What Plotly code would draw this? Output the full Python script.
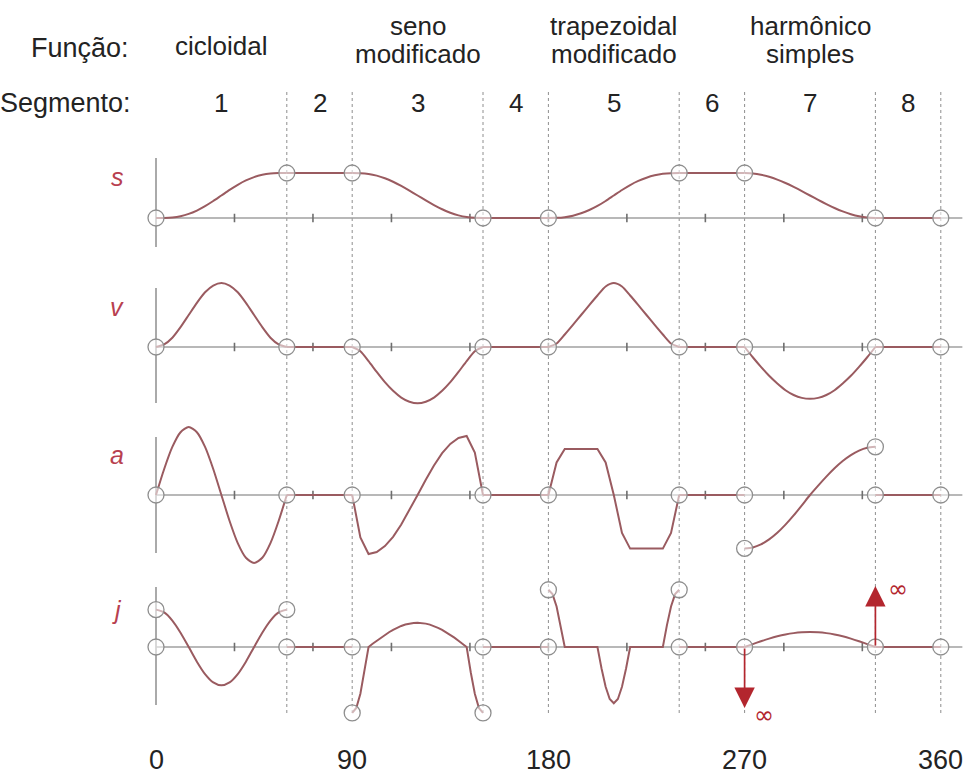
import plotly.graph_objects as go

# ---------------------------------------------------------------------------
# Data: SVAJ diagrams of a cam with eight segments (angles in degrees)
# ---------------------------------------------------------------------------
SEGMENT_EDGES = [0, 60, 90, 150, 180, 240, 270, 330, 360]
SEGMENT_NAMES = ["1", "2", "3", "4", "5", "6", "7", "8"]
FUNCTION_NAMES = [("cicloidal", ""), ("seno", "modificado"),
                  ("trapezoidal", "modificado"), ("harmônico", "simples")]
X_LABELS = [0, 90, 180, 270, 360]
TICK_DEG = [36, 72, 108, 144, 180, 216, 252, 288, 324]

# sample positions inside every 60° motion segment
SAMPLE_OFFSETS = [0, 3.75, 7.5, 11.25, 15, 18.75, 22.5, 26.25, 30,
                  33.75, 37.5, 41.25, 45, 48.75, 52.5, 56.25, 60]
FINE_OFFSETS = [0, 1.875, 3.75, 5.625, 7.5, 9.375, 11.25, 13.125, 15,
                16.875, 18.75, 20.625, 22.5, 24.375, 26.25, 28.125, 30,
                31.875, 33.75, 35.625, 37.5, 39.375, 41.25, 43.125, 45,
                46.875, 48.75, 50.625, 52.5, 54.375, 56.25, 58.125, 60]

# displacement s
S_CICLOIDAL = [0, 0.002, 0.013, 0.041, 0.091, 0.166, 0.263, 0.377, 0.5,
               0.623, 0.737, 0.834, 0.909, 0.959, 0.987, 0.998, 1]
S_SENO_MOD = [1, 0.997, 0.980, 0.942, 0.883, 0.805, 0.713, 0.609, 0.5,
              0.391, 0.288, 0.195, 0.117, 0.058, 0.020, 0.003, 0]
S_TRAP_MOD = [0, 0.003, 0.018, 0.052, 0.105, 0.177, 0.268, 0.378, 0.5,
              0.622, 0.732, 0.823, 0.895, 0.948, 0.982, 0.997, 1]
S_HARMONICO = [1, 0.990, 0.962, 0.916, 0.854, 0.778, 0.691, 0.598, 0.5,
               0.402, 0.309, 0.222, 0.146, 0.084, 0.038, 0.010, 0]
S_DWELL = [1, 0, 1, 0]

# velocity v
V_CICLOIDAL = [0, 0.08, 0.29, 0.62, 1.0, 1.38, 1.71, 1.92, 2.0,
               1.92, 1.71, 1.38, 1.0, 0.62, 0.29, 0.08, 0]
V_SENO_MOD = [0, -0.13, -0.44, -0.78, -1.10, -1.37, -1.58, -1.71, -1.76,
              -1.71, -1.58, -1.37, -1.10, -0.78, -0.44, -0.13, 0]
V_TRAP_MOD = [0, 0.11, 0.39, 0.69, 1.0, 1.31, 1.61, 1.89, 2.0,
              1.89, 1.61, 1.31, 1.0, 0.69, 0.39, 0.11, 0]
V_HARMONICO = [0, -0.32, -0.62, -0.90, -1.14, -1.35, -1.50, -1.59, -1.62,
               -1.59, -1.50, -1.35, -1.14, -0.90, -0.62, -0.32, 0]
V_DWELL = [0, 0, 0, 0]

# acceleration a
A_CICLOIDAL = [0, 2.40, 4.44, 5.80, 6.28, 5.80, 4.44, 2.40, 0,
               -2.40, -4.44, -5.80, -6.28, -5.80, -4.44, -2.40, 0]
A_SENO_MOD = [0, -3.91, -5.45, -5.27, -4.72, -3.86, -2.72, -1.41, 0,
              1.41, 2.72, 3.86, 4.72, 5.27, 5.45, 3.91, 0]
A_TRAP_MOD = [0, 3.0, 4.25, 4.25, 4.25, 4.25, 4.25, 3.0, 0,
              -3.5, -4.95, -4.95, -4.95, -4.95, -4.95, -3.5, 0]
A_HARMONICO = [-4.93, -4.84, -4.56, -4.10, -3.49, -2.74, -1.89, -0.96, 0,
               0.87, 1.70, 2.47, 3.14, 3.69, 4.10, 4.36, 4.45]
A_DWELL = [0, 0, 0, 0]

# jerk j (the piecewise laws are read on the finer grid)
J_CICLOIDAL = [38.5, 35.6, 27.2, 14.7, 0, -15.1, -27.9, -36.5, -39.5,
               -36.5, -27.9, -15.1, 0, 14.7, 27.2, 35.6, 38.5]
J_SENO_MOD = [-68, -62.8, -48.1, -26.0, 0, 3.3, 6.5, 9.6, 12.5, 15.2, 17.7,
              19.8, 21.7, 23.1, 24.1, 24.8, 25.0, 24.8, 24.1, 23.1, 21.7,
              19.8, 17.7, 15.2, 12.5, 9.6, 6.5, 3.3, 0, -26.0, -48.1, -62.8,
              -68]
J_TRAP_MOD = [59, 54.5, 41.7, 22.6, 0, 0, 0, 0, 0, 0, 0, 0,
              0, -22.2, -41.0, -53.6, -58, -53.6, -41.0, -22.2, 0,
              0, 0, 0, 0, 0, 0, 0, 0, 22.6, 41.7, 54.5, 59]
J_HARMONICO = [0, 3.0, 5.9, 8.6, 11.0, 12.9, 14.3, 15.2, 15.5,
               15.2, 14.3, 12.9, 11.0, 8.6, 5.9, 3.0, 0]
J_DWELL = [0, 0, 0, 0]

# points where the jerk goes to infinity (angle, direction)
JERK_INF_ANGLES = [270, 330]
JERK_INF_SIGNS = [-1, 1]

MOTION = {
    "s": [S_CICLOIDAL, S_SENO_MOD, S_TRAP_MOD, S_HARMONICO],
    "v": [V_CICLOIDAL, V_SENO_MOD, V_TRAP_MOD, V_HARMONICO],
    "a": [A_CICLOIDAL, A_SENO_MOD, A_TRAP_MOD, A_HARMONICO],
    "j": [J_CICLOIDAL, J_SENO_MOD, J_TRAP_MOD, J_HARMONICO],
}
DWELL = {"s": S_DWELL, "v": V_DWELL, "a": A_DWELL, "j": J_DWELL}

# piecewise-defined laws (modified sine / trapezoid) keep straight joins
# on the a and j diagrams; everything else is drawn as a smooth spline
LINEAR_PIECES = {("a", 1), ("a", 2), ("j", 1), ("j", 2)}

# ---------------------------------------------------------------------------
# Layout geometry (pixels from the top of a 965 x 775 page)
# ---------------------------------------------------------------------------
W, H = 965, 775
X0_PX, DEG_PX = 156.0, 2.18          # 0° position and pixels per degree
X_RANGE = [-20, 370]

PANELS = {
    #        baseline, px/unit, domain px,  axis line px, label y px
    "s": dict(base=218, unit=45.0, dom=(150, 272), axis=(158, 247), label=177),
    "v": dict(base=347, unit=32.0, dom=(272, 420), axis=(288, 403), label=307),
    "a": dict(base=495, unit=10.83, dom=(420, 578), axis=(437, 553), label=455),
    "j": dict(base=647, unit=0.97, dom=(578, 730), axis=(587, 705), label=610),
}
ORDER = ["s", "v", "a", "j"]

CURVE_COLOR = "#9a5b60"
GRID_GRAY = "#8e8e8e"
TEXT_COLOR = "#232323"
LABEL_RED = "#b8404f"
ARROW_RED = "#b3262e"
FONT = "Liberation Sans, Arial, Helvetica, sans-serif"
TEXT_SIZE = 26


def py(px):
    """Vertical pixel position to paper fraction."""
    return 1 - px / H


def pxx(px):
    return px / W


def pieces_for(name):
    out = []
    for i in range(8):
        a0, a1 = SEGMENT_EDGES[i], SEGMENT_EDGES[i + 1]
        if i % 2 == 0:
            vals = MOTION[name][i // 2]
            offs = FINE_OFFSETS if len(vals) == len(FINE_OFFSETS) else SAMPLE_OFFSETS
            xs = [a0 + o * (a1 - a0) / 60 for o in offs]
            shape = "linear" if (name, i // 2) in LINEAR_PIECES else "spline"
        else:
            lvl = DWELL[name][i // 2]
            xs, vals = [a0, a1], [lvl, lvl]
            shape = "linear"
        out.append((xs, list(vals), shape))
    return out


fig = go.Figure()
layout_axes = {}
shapes = []
annotations = []

x_dom = [pxx(X0_PX + DEG_PX * X_RANGE[0]), pxx(X0_PX + DEG_PX * X_RANGE[1])]
layout_axes["xaxis"] = dict(domain=x_dom, range=X_RANGE, visible=False,
                            fixedrange=True)

for idx, name in enumerate(ORDER):
    g = PANELS[name]
    yname = "y" if idx == 0 else f"y{idx + 1}"
    lname = "yaxis" if idx == 0 else f"yaxis{idx + 1}"
    top, bot = g["dom"]
    layout_axes[lname] = dict(
        domain=[py(bot), py(top)],
        range=[-(bot - g["base"]) / g["unit"], (g["base"] - top) / g["unit"]],
        visible=False, anchor="x", fixedrange=True,
    )

    # baseline with small ticks
    shapes.append(dict(type="line", xref="x", yref=yname, x0=0, x1=X_RANGE[1],
                       y0=0, y1=0, line=dict(color="#a0a0a0", width=1.5),
                       layer="below"))
    fig.add_trace(go.Scatter(
        x=TICK_DEG, y=[0] * len(TICK_DEG), xaxis="x", yaxis=yname,
        mode="markers", hoverinfo="skip", showlegend=False,
        marker=dict(symbol="line-ns", size=6,
                    line=dict(color="#6e6e6e", width=1.6)),
    ))

    # vertical axis line at 0°
    shapes.append(dict(type="line", xref="x", yref="paper", x0=0, x1=0,
                       y0=py(g["axis"][1]), y1=py(g["axis"][0]),
                       line=dict(color=GRID_GRAY, width=1.5), layer="below"))

    # the curve, one trace per segment
    pieces = pieces_for(name)
    for xs, ys, shape in pieces:
        fig.add_trace(go.Scatter(
            x=xs, y=ys, xaxis="x", yaxis=yname, mode="lines",
            line=dict(color=CURVE_COLOR, width=2, shape=shape, smoothing=0.7),
            hoverinfo="skip", showlegend=False,
        ))

    # open circles at the segment boundaries
    ox, oy = [], []
    for k, edge in enumerate(SEGMENT_EDGES):
        incoming = pieces[k - 1][1][-1] if k > 0 else pieces[-1][1][-1]
        ox.append(edge)
        oy.append(incoming)
        if k < len(pieces):
            outgoing = pieces[k][1][0]
            if abs(outgoing - incoming) > 1e-9:
                ox.append(edge)
                oy.append(outgoing)
    fig.add_trace(go.Scatter(
        x=ox, y=oy, xaxis="x", yaxis=yname, mode="markers",
        marker=dict(symbol="circle", size=16, color="rgba(255,255,255,0.55)",
                    line=dict(color=GRID_GRAY, width=1.3)),
        hoverinfo="skip", showlegend=False, cliponaxis=False,
    ))

    # panel letter
    annotations.append(dict(
        text=f"<i>{name}</i>", xref="paper", yref="paper",
        x=pxx(117), y=py(g["label"]), xanchor="center", yanchor="middle",
        showarrow=False, font=dict(family=FONT, size=25, color=LABEL_RED),
    ))

# infinite jerk arrows
jg = PANELS["j"]
for ang, sgn in zip(JERK_INF_ANGLES, JERK_INF_SIGNS):
    tip = sgn * 61 / jg["unit"]
    annotations.append(dict(
        x=ang, y=tip, xref="x", yref="y4", ax=ang, ay=0, axref="x", ayref="y4",
        text="", showarrow=True, arrowhead=2, arrowsize=2.4, arrowwidth=1.7,
        arrowcolor=ARROW_RED, standoff=0, startstandoff=0,
    ))
    annotations.append(dict(
        x=ang + (9 if sgn < 0 else 10.5), y=tip + (-7 if sgn < 0 else -3) / jg["unit"],
        xref="x", yref="y4", text="∞", showarrow=False,
        xanchor="center", yanchor="middle",
        font=dict(family="DejaVu Sans", size=24, color=ARROW_RED),
    ))

# dotted segment boundaries
for edge in SEGMENT_EDGES[1:]:
    shapes.append(dict(type="line", xref="x", yref="paper", x0=edge, x1=edge,
                       y0=py(713), y1=py(90),
                       line=dict(color=GRID_GRAY, width=1, dash="dot"),
                       layer="below"))

# header rows
annotations.append(dict(text="Função:", xref="paper", yref="paper",
                        x=pxx(131), y=py(48), xanchor="right", yanchor="middle",
                        showarrow=False,
                        font=dict(family=FONT, size=TEXT_SIZE + 1, color=TEXT_COLOR)))
annotations.append(dict(text="Segmento:", xref="paper", yref="paper",
                        x=pxx(133), y=py(103), xanchor="right", yanchor="middle",
                        showarrow=False,
                        font=dict(family=FONT, size=TEXT_SIZE + 1, color=TEXT_COLOR)))

for i, label in enumerate(SEGMENT_NAMES):
    mid = (SEGMENT_EDGES[i] + SEGMENT_EDGES[i + 1]) / 2
    annotations.append(dict(text=label, xref="x", yref="paper", x=mid,
                            y=py(103), xanchor="center", yanchor="middle",
                            showarrow=False,
                            font=dict(family=FONT, size=TEXT_SIZE, color=TEXT_COLOR)))

for i, (line1, line2) in enumerate(FUNCTION_NAMES):
    mid = (SEGMENT_EDGES[2 * i] + SEGMENT_EDGES[2 * i + 1]) / 2
    rows = [(line1, 46)] if not line2 else [(line1, 26), (line2, 54)]
    for txt, ypx in rows:
        annotations.append(dict(text=txt, xref="x", yref="paper", x=mid,
                                y=py(ypx), xanchor="center", yanchor="middle",
                                showarrow=False,
                                font=dict(family=FONT, size=TEXT_SIZE, color=TEXT_COLOR)))

for val in X_LABELS:
    annotations.append(dict(text=str(val), xref="x", yref="paper", x=val,
                            y=py(760), xanchor="center", yanchor="middle",
                            showarrow=False,
                            font=dict(family=FONT, size=TEXT_SIZE + 1, color=TEXT_COLOR)))

fig.update_layout(
    width=W, height=H, margin=dict(l=0, r=0, t=0, b=0),
    paper_bgcolor="white", plot_bgcolor="white",
    showlegend=False, shapes=shapes, annotations=annotations,
    **layout_axes,
)

fig.write_html("out.html")
